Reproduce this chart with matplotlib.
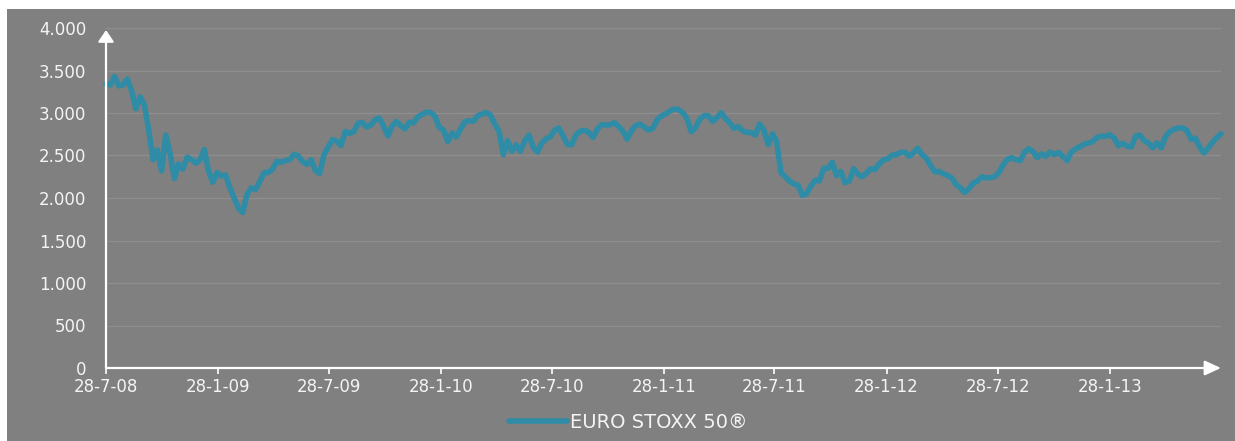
import matplotlib
matplotlib.use("Agg")
import matplotlib.pyplot as plt
import matplotlib.patches as mpatches
import pandas as pd
import numpy as np

# Weekly closes of EURO STOXX 50 (from 28-7-2008)
start_date = "2008-07-28"
values = [
    3340, 3330, 3430, 3320, 3330, 3400, 3260, 3050, 3190, 3090,
    2800, 2450, 2567, 2320, 2740, 2520, 2230, 2400, 2340, 2480,
    2455, 2410, 2449, 2570, 2320, 2185, 2300, 2260, 2270, 2120,
    2000, 1880, 1830, 2040, 2120, 2100, 2195, 2300, 2300, 2340,
    2430, 2420, 2440, 2450, 2515, 2495, 2430, 2395, 2449, 2325,
    2290, 2505, 2600, 2686, 2670, 2615, 2784, 2760, 2780, 2880,
    2888, 2835, 2860, 2922, 2940, 2840, 2730, 2850, 2900, 2850,
    2812, 2890, 2885, 2955, 2982, 3010, 3005, 2962, 2830, 2800,
    2665, 2765, 2715, 2815, 2895, 2910, 2902, 2967, 2986, 3006,
    2975, 2870, 2786, 2510, 2675, 2550, 2625, 2550, 2670, 2740,
    2600, 2540, 2647, 2695, 2720, 2798, 2824, 2730, 2630, 2625,
    2742, 2785, 2797, 2772, 2712, 2810, 2862, 2860, 2861, 2885,
    2843, 2785, 2690, 2795, 2853, 2870, 2835, 2802, 2820, 2920,
    2965, 2990, 3025, 3047, 3040, 3004, 2935, 2780, 2830, 2925,
    2970, 2968, 2900, 2945, 3005, 2935, 2885, 2820, 2840, 2790,
    2772, 2770, 2740, 2870, 2800, 2630, 2755, 2660, 2300, 2250,
    2200, 2165, 2150, 2030, 2050, 2140, 2210, 2200, 2350, 2350,
    2420, 2265, 2312, 2180, 2200, 2345, 2280, 2250, 2292, 2345,
    2335, 2400, 2450, 2460, 2502, 2510, 2536, 2540, 2490, 2532,
    2585, 2510, 2470, 2385, 2308, 2312, 2285, 2265, 2235, 2157,
    2120, 2065, 2110, 2175, 2200, 2250, 2236, 2240, 2250, 2300,
    2390, 2455, 2475, 2450, 2440, 2540, 2580, 2545, 2475, 2520,
    2490, 2540, 2510, 2535, 2490, 2440, 2545, 2578, 2605, 2635,
    2647, 2665, 2715, 2726, 2726, 2745, 2705, 2615, 2645, 2610,
    2600, 2728, 2740, 2675, 2648, 2590, 2650, 2590, 2720, 2780,
    2808, 2824, 2824, 2795, 2690, 2705, 2600, 2530, 2590, 2655,
    2710, 2755,
]
dates = pd.date_range(start_date, periods=len(values), freq="7D")

tick_dates = ["2008-07-28", "2009-01-28", "2009-07-28", "2010-01-28", "2010-07-28",
              "2011-01-28", "2011-07-28", "2012-01-28", "2012-07-28", "2013-01-28"]
tick_labels = ["28-7-08", "28-1-09", "28-7-09", "28-1-10", "28-7-10",
               "28-1-11", "28-7-11", "28-1-12", "28-7-12", "28-1-13"]
y_ticks = [0, 500, 1000, 1500, 2000, 2500, 3000, 3500, 4000]
y_labels = ["0", "500", "1.000", "1.500", "2.000", "2.500", "3.000", "3.500", "4.000"]
series_name = "EURO STOXX 50®"

BG = "#808080"
GRID = "#8e8e8e"
LINE = "#2f8ca6"
TXT = "#f4f4f4"

W, H = 1235, 441
fig = plt.figure(figsize=(W / 100, H / 100), dpi=100, facecolor="white")
fig.patches.append(mpatches.Rectangle((7 / W, 0), 1 - 7 / W, 1 - 9 / H,
                                      transform=fig.transFigure, facecolor=BG,
                                      edgecolor="none", zorder=-10))

ax = fig.add_axes([106 / W, 73 / H, (1221 - 106) / W, 340 / H])
ax.set_facecolor("none")
ax.plot(dates, values, color=LINE, lw=4.0, solid_joinstyle="round",
        solid_capstyle="round", label=series_name, zorder=3, clip_on=False)

ax.set_ylim(0, 4000)
ax.set_xlim(pd.Timestamp(start_date), dates[-1])
ax.set_yticks(y_ticks)
ax.set_yticklabels(y_labels)
ax.set_xticks(pd.to_datetime(tick_dates))
ax.set_xticklabels(tick_labels)

for s in ax.spines.values():
    s.set_visible(False)
ax.grid(axis="y", color=GRID, lw=1.0)
ax.set_axisbelow(True)
ax.tick_params(axis="y", length=0, pad=14, labelcolor=TXT, labelsize=12)
ax.tick_params(axis="x", length=4, width=1.2, color="white", direction="out",
               pad=3, labelcolor=TXT, labelsize=12)

# axis lines with arrowheads
ax.annotate("", xy=(1.0, 0), xytext=(0, 0), xycoords="axes fraction",
            arrowprops=dict(arrowstyle="-|>,head_length=0.7,head_width=0.32",
                            color="white", lw=1.6, shrinkA=0, shrinkB=0,
                            mutation_scale=14), annotation_clip=False, zorder=4)
ax.annotate("", xy=(0, 0.994), xytext=(0, 0), xycoords="axes fraction",
            arrowprops=dict(arrowstyle="-|>,head_length=0.5,head_width=0.34",
                            color="white", lw=1.6, shrinkA=0, shrinkB=0,
                            mutation_scale=14), annotation_clip=False, zorder=4)

leg = fig.legend(loc="center", bbox_to_anchor=(628 / W, 1 - 422 / H), frameon=False,
                 fontsize=14, handlelength=3.0, handletextpad=0.15)
for t in leg.get_texts():
    t.set_color(TXT)

fig.savefig("out.png", dpi=100, facecolor="white")
